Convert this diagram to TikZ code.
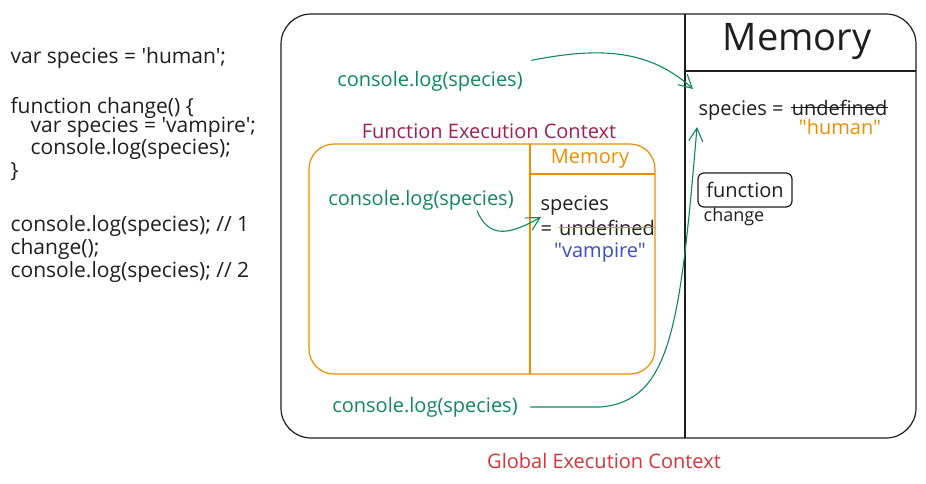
\documentclass[tikz,border=0pt]{standalone}
\usepackage{fontspec}
\setmainfont{Open Sans}[Ligatures=TeXOff]
\usetikzlibrary{arrows.meta, positioning}

\definecolor{inkBlack}{HTML}{1E1E1E}
\definecolor{logGreen}{HTML}{0C8A5C}
\definecolor{memOrange}{HTML}{F08C00}
\definecolor{fecRed}{HTML}{A61E4D}
\definecolor{gecRed}{HTML}{D6333A}
\definecolor{valBlue}{HTML}{3B4CC8}

\tikzset{
  txt/.style={inner sep=0pt, text=inkBlack, font=\fontsize{20}{24}\selectfont},
  code/.style={txt, anchor=base west},
  listing/.style={code, font=\fontsize{21}{24}\selectfont},
  logtxt/.style={txt, text=logGreen},
  logarrow/.style={logGreen, line width=1.1pt, -{Straight Barb[length=13pt, width=14pt]}},
}

\begin{document}
\begin{tikzpicture}[x=1pt, y=-1pt, line width=1.2pt]
\useasboundingbox (0,0) rectangle (926,483);

% code listing
\node [listing] (c1) at (10,63) {var species = 'human';};
\node [listing] (c2) at (10,113) {function change() \{};
\node [listing] (c3) at (30,132) {var species = 'vampire';};
\node [listing] (c4) at (30,154) {console.log(species);};
\node [listing] (c5) at (10,177) {\}};
\node [listing] (c6) at (10,231) {console.log(species); // 1};
\node [listing] (c7) at (10,254) {change();};
\node [listing] (c8) at (10,277) {console.log(species); // 2};

% global execution context
\draw [inkBlack, rounded corners=30pt] (281,14) rectangle (916,438);
\draw [inkBlack] (685,14) -- (685,438);
\draw [inkBlack] (685,71) -- (916,71);
\node [txt, font=\fontsize{38}{44}\selectfont] (gMemTitle) at (797,41) {Memory};
\node [code] (gSpecies) at (698,115) {species =};
\node [txt, base right=7pt of gSpecies] (gUndef) {undefined};
\draw [inkBlack] (gUndef.west) -- (gUndef.east);
\node [txt, text=memOrange] (gVal) at (840,127) {"human"};
\node [txt, draw=inkBlack, rounded corners=6pt, minimum width=94pt, minimum height=34pt] (fnBox) at (745,190) {function};
\node [txt, font=\fontsize{18}{22}\selectfont] (fnName) at (734,217) {change};
\node [txt, text=gecRed] (gecLabel) at (604,461) {Global Execution Context};

% function execution context
\draw [memOrange] [rounded corners=25pt] (309,144) rectangle (655,374);
\draw [memOrange] (530,144) -- (530,374);
\draw [memOrange] (530,174) -- (655,174);
\node [txt, text=memOrange] (fMemTitle) at (590,159) {Memory};
\node [code] (fSpecies) at (540,210) {species};
\node [code] (fEq) at (540,235) {=};
\node [txt, base right=6pt of fEq] (fUndef) {undefined};
\draw [memOrange] (fUndef.west) -- (fUndef.east);
\node [txt, text=valBlue] (fVal) at (600,253) {"vampire"};
\node [txt, text=fecRed] (fecLabel) at (489,131) {Function Execution Context};

% console.log calls
\node [logtxt] (log1) at (430,81) {console.log(species)};
\node [logtxt] (log2) at (421,200) {console.log(species)};
\node [logtxt] (log3) at (425,407) {console.log(species)};

\coordinate (gSpeciesIn) at (693,89);
\coordinate (gSpeciesUp) at (697,127);
\coordinate (fSpeciesIn) at (541,217);

\draw [logarrow] ([shift={(8,-10)}]log1.north east) .. controls +(70,-14) and +(-43,-39) .. (gSpeciesIn);
\draw [logarrow] ([xshift=56pt]log2.south) .. controls +(11,26) and +(-35,20) .. (fSpeciesIn);
\draw [logarrow] ([xshift=12pt]log3.east) -- ++(70,0) .. controls +(70,-6) and +(-17,202) .. (gSpeciesUp);

\end{tikzpicture}
\end{document}
